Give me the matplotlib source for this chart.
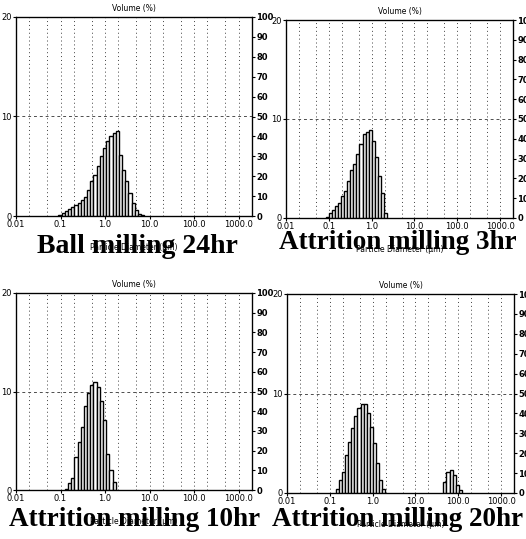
import matplotlib.pyplot as plt
import numpy as np

# bin ratio of the size classes (about 14 classes per decade)
step = 10 ** (1 / 14)

# panel 1: ball milling 24hr
start1 = 0.09
vol1 = [0.15, 0.3, 0.5, 0.7, 0.9, 1.1, 1.3, 1.6, 1.9, 2.6, 3.5, 4.1, 5.0, 6.0,
        6.8, 7.5, 8.0, 8.3, 8.5, 6.1, 4.6, 3.5, 2.3, 1.3, 0.6, 0.25, 0.1]

# panel 2: attrition milling 3hr
start2 = 0.085
vol2 = [0.15, 0.5, 0.8, 1.2, 1.5, 2.2, 2.7, 3.7, 4.8, 5.5, 6.5, 7.5, 8.5, 8.7,
        8.9, 7.8, 6.2, 4.2, 2.5, 0.5]

# panel 3: attrition milling 10hr
start3 = 0.125
vol3 = [0.15, 0.7, 1.2, 3.4, 4.9, 6.4, 8.5, 9.8, 10.7, 11.0, 10.5, 9.0, 7.1,
        3.7, 2.0, 0.8]

# panel 4: attrition milling 20hr (two modes)
start4 = 0.14
vol4 = [0.4, 1.3, 2.1, 3.8, 5.1, 6.5, 7.7, 8.5, 8.9, 8.9, 8.0, 6.6, 5.0, 3.0,
        1.3, 0.4]
start4b = 45.0
vol4b = [1.1, 2.1, 2.3, 1.8, 0.8, 0.3]

captions = ['Ball milling 24hr', 'Attrition milling 3hr',
            'Attrition milling 10hr', 'Attrition milling 20hr']
xticks = [0.01, 0.1, 1, 10, 100, 1000]
xticklabels = ['0.01', '0.1', '1.0', '10.0', '100.0', '1000.0']
grid_x = [0.02, 0.05, 0.1, 0.2, 0.5, 1, 2, 5, 10, 20, 50, 100, 200, 500, 1000]

W, H = 526, 539
fig = plt.figure(figsize=(W / 100, H / 100), dpi=100)

# axes boxes in pixels: left, top, right, bottom
boxes = [(16, 17, 252, 216), (286, 20, 513, 218),
         (16, 293, 252, 490), (287, 294, 514, 493)]
caption_x = [137, 398, 135, 398]
caption_y = [253, 249, 526, 526]
caption_size = [20, 19.5, 19.5, 19.5]
data = [[(start1, vol1)], [(start2, vol2)], [(start3, vol3)],
        [(start4, vol4), (start4b, vol4b)]]


def draw_bars(ax, start, vals):
    edges = start * step ** np.arange(len(vals) + 1)
    ax.bar(edges[:-1], vals, width=np.diff(edges), align='edge',
           color='white', edgecolor='black', linewidth=1.0, zorder=3)


for i, (l, t, r, b) in enumerate(boxes):
    ax = fig.add_axes([l / W, 1 - b / H, (r - l) / W, (b - t) / H])
    for s, v in data[i]:
        draw_bars(ax, s, v)
    ax.set_xscale('log')
    ax.set_xlim(0.01, 2000)
    ax.set_ylim(0, 20)
    ax.set_xticks(xticks)
    ax.set_xticklabels(xticklabels, fontsize=6)
    ax.minorticks_off()
    ax.set_yticks([0, 10, 20])
    ax.set_yticklabels(['0', '10', '20'], fontsize=6)
    ax.tick_params(length=2, pad=1)
    for g in grid_x:
        ax.axvline(g, color='0.25', ls=(0, (1, 3)), lw=0.7, zorder=1)
    ax.axhline(10, color='0.3', ls=(0, (3, 3)), lw=0.7, zorder=1)
    for sp in ax.spines.values():
        sp.set_linewidth(0.9)
    ax.set_title('Volume (%)', fontsize=5.5, pad=4)
    ax.set_xlabel('Particle Diameter (µm)', fontsize=5.5, labelpad=10)

    ax2 = ax.twinx()
    ax2.set_ylim(0, 100)
    ax2.set_yticks(np.arange(0, 101, 10))
    ax2.set_yticklabels([str(v) for v in range(0, 101, 10)], fontsize=6,
                        fontweight='bold')
    ax2.tick_params(length=2, pad=1)

    fig.text(caption_x[i] / W, 1 - caption_y[i] / H, captions[i], ha='center',
             va='baseline', fontsize=caption_size[i], fontweight='bold',
             family='Liberation Serif')

fig.savefig('out.png', dpi=100)
